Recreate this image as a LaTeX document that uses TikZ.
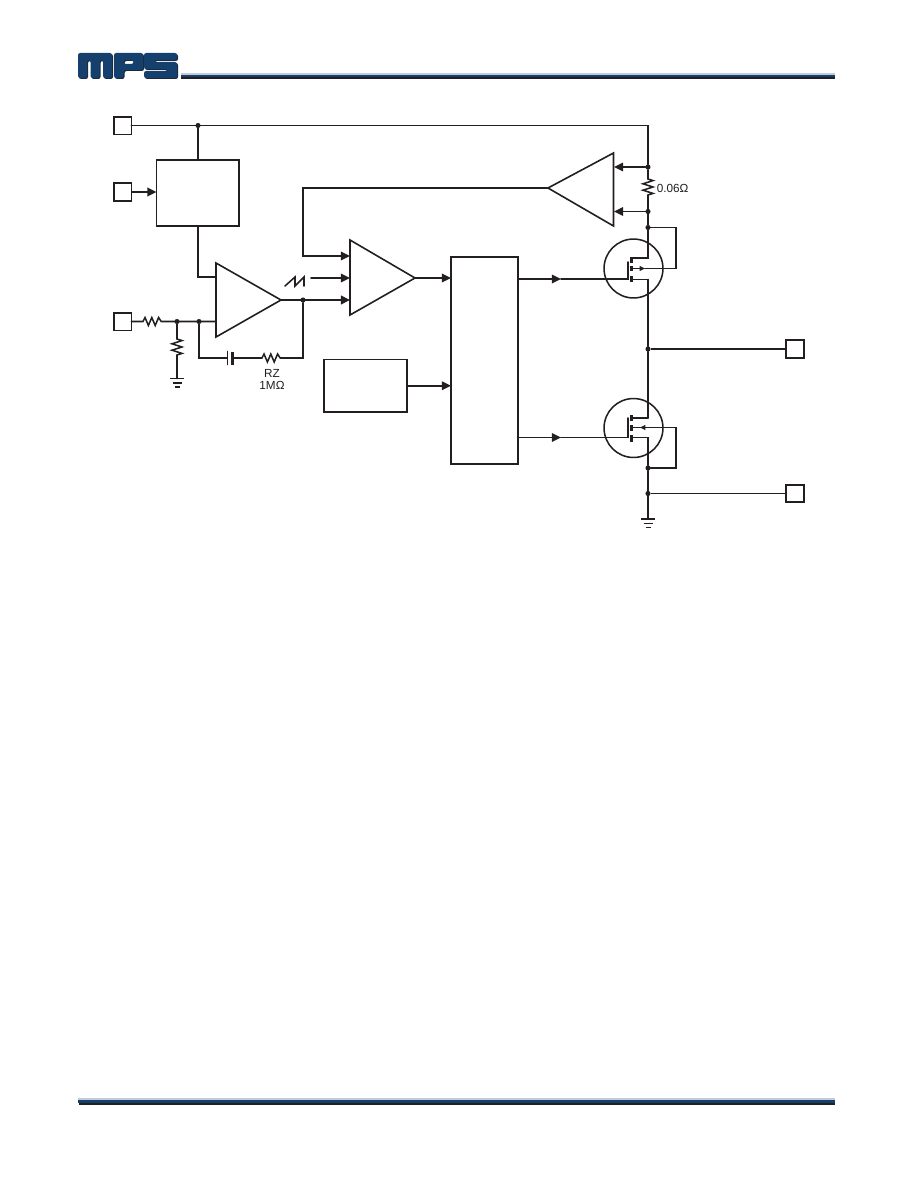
\documentclass[tikz,border=0pt]{standalone}
\usepackage{fontspec}
\setmainfont{Liberation Sans}
\usetikzlibrary{arrows.meta,calc}
\definecolor{ink}{HTML}{231F20}
\definecolor{mpsblue}{HTML}{153F6C}
\definecolor{mpsshade}{HTML}{1A2A3A}
\definecolor{mpslight}{HTML}{C3CBDA}
\tikzset{
  wire/.style={draw=ink,line width=1.15pt,line cap=round,line join=miter},
  thinwire/.style={draw=ink,line width=0.8pt},
  heavywire/.style={draw=ink,line width=1.6pt},
  arrowed/.style={-{Triangle[length=6.8pt,width=6.4pt]}},
  pin/.style={draw=ink,line width=1.2pt,fill=white,minimum size=13.2pt,inner sep=0pt,outer sep=0pt},
  heavypin/.style={pin,line width=1.6pt},
  blockbox/.style={draw=ink,line width=1.25pt,fill=white,inner sep=0pt,outer sep=0pt},
  amp/.style={draw=ink,line width=1.2pt,fill=white,line join=miter},
  joint/.style={circle,fill=ink,inner sep=0pt,minimum size=3.8pt,outer sep=0pt},
  fetring/.style={circle,draw=ink,line width=1.15pt,minimum size=44.2pt,inner sep=0pt,outer sep=0pt},
  channel/.style={draw=ink,line width=1.6pt},
  lbl/.style={font=\fontsize{8.8pt}{10pt}\selectfont,text=ink,inner sep=0pt},
  hres/.style={to path={-- ++(2,-4) -- ++(3.4,8) -- ++(3.4,-8) -- ++(3.4,8) -- ++(3.4,-8) -- ++(2.6,4) -- (\tikztotarget)}},
  vres/.style={to path={-- ++(5,1.6) -- ++(-10,3.2) -- ++(10,3.2) -- ++(-10,3.2) -- ++(10,3.2) -- ++(-5,1.6) -- (\tikztotarget)}},
}
% Draws the three-bar ground symbol below a named point; #2 is the top bar's width
\newcommand{\earth}[2]{%
  \draw[draw=ink,line width=#2] ($(#1)+(-7,0)$) -- ($(#1)+(7,0)$);
  \draw[thinwire] ($(#1)+(-4.5,4.5)$) -- ($(#1)+(4.5,4.5)$);
  \draw[thinwire,line width=1.1pt] ($(#1)+(-2.5,8.5)$) -- ($(#1)+(2.5,8.5)$);
}
% Company logo letters, with slits cut out of solid blocks
\newcommand{\logoshape}[1]{%
  \fill[#1,rounded corners=1.6pt] (78,53) -- (112,53) -- (112,78) -- (103,78) -- (103,60) -- (99.5,60) -- (99.5,78) -- (90.5,78) -- (90.5,60) -- (87,60) -- (87,78) -- (78,78) -- cycle;
  \fill[#1,rounded corners=1.6pt,even odd rule] (114,53) -- (143,53) -- (143,70) -- (123.5,70) -- (123.5,78) -- (114,78) -- cycle (123.5,60) -- (133.5,60) -- (133.5,64) -- (123.5,64) -- cycle;
  \fill[#1,rounded corners=1.6pt] (144,53) -- (177,53) -- (177,60) -- (154,60) -- (154,62) -- (177,62) -- (177,78) -- (144,78) -- (144,71) -- (167,71) -- (167,69) -- (144,69) -- cycle;
}
\begin{document}
\begin{tikzpicture}[x=0.75pt,y=-0.75pt]
\useasboundingbox (0,0) rectangle (918,1188);

% Page header and footer
\begin{scope}[shift={(1,1)}]\logoshape{mpsshade}\end{scope}
\logoshape{mpsblue}
\fill[mpslight] (181,73) rectangle (835,75);
\fill[mpsblue] (181,75) rectangle (835,77.5);
\fill[ink] (181,77.5) rectangle (835,79.5);
\fill[mpslight] (78,1098) rectangle (835,1100);
\fill[mpsblue] (78,1100) rectangle (835,1103);
\fill[ink] (79,1103) rectangle (835,1105);

% Pins
\node[pin] (pinA) at (122.5,125.5) {};
\node[pin] (pinB) at (122.5,192) {};
\node[pin] (pinC) at (122.5,321.5) {};
\node[heavypin] (pinD) at (795,349) {};
\node[heavypin] (pinE) at (795,493.5) {};

% Function blocks
\node[blockbox,minimum width=62pt,minimum height=49.5pt] (reg) at (197.75,193) {};
\node[blockbox,minimum width=62.2pt,minimum height=39.4pt] (osc) at (365.5,385.75) {};
\node[blockbox,minimum width=50.2pt,minimum height=155.2pt] (logic) at (484.5,360.5) {};

% Named points of the amplifiers
\coordinate (eaTop) at (216,263);
\coordinate (eaBot) at (216,337);
\coordinate (eaOut) at (281,300);
\coordinate (eaHi) at (216,277);
\coordinate (eaLo) at (216,321.5);
\coordinate (cmpTop) at (350,240);
\coordinate (cmpBot) at (350,315);
\coordinate (cmpOut) at (415,278);
\coordinate (cmpA) at (350,256);
\coordinate (cmpB) at (350,278);
\coordinate (cmpC) at (350,300);
\coordinate (csTop) at (613.5,153);
\coordinate (csBot) at (613.5,226);
\coordinate (csOut) at (548,188);
\coordinate (csA) at (614,167);
\coordinate (csB) at (614,211.5);

% Junctions on the schematic
\node[joint] (jTop) at (198,125.5) {};
\node[joint] (jDiv) at (177,321.5) {};
\node[joint] (jInv) at (199,321.5) {};
\node[joint] (jOut) at (303,300) {};
\node[joint] (jSenseHi) at (648,167) {};
\node[joint] (jSenseLo) at (648,211.5) {};
\node[joint] (jBodyHi) at (648,227.5) {};
\node[joint] (jSw) at (648,349) {};
\node[joint] (jBodyLo) at (648,468) {};
\node[joint] (jGnd) at (648,493.5) {};

% Supply rail and regulator
\coordinate (railEnd) at (648,125.5);
\draw[wire] (pinA) -- (railEnd) -- (jSenseHi);
\draw[wire] (jTop) -- (reg.north -| jTop);
\draw[heavywire,arrowed] (pinB) -- (reg.west |- pinB);
\draw[wire] (reg.south -| jTop) -- (jTop |- eaHi) -- (eaHi);

% Input divider and compensation
\coordinate (r1a) at (143,321.5);
\coordinate (r1b) at (165,321.5);
\coordinate (r2a) at (177,339);
\coordinate (r2b) at (177,359);
\coordinate (gndA) at (177,378.5);
\coordinate (fbL) at (199,358);
\coordinate (capL) at (227.5,358);
\coordinate (capR) at (232.5,358);
\coordinate (rzA) at (262,358);
\coordinate (rzB) at (284,358);
\coordinate (fbR) at (303,358);
\draw[wire] (pinC) -- (r1a) to[hres] (r1b) -- (eaLo);
\draw[wire] (jDiv) -- (r2a) to[vres] (r2b) -- (gndA);
\earth{gndA}{1pt}
\draw[heavywire] (jInv) -- (fbL) -- (capL);
\draw[wire] ($(capL)+(0,-6.5)$) -- ($(capL)+(0,6.5)$);
\draw[heavywire] ($(capR)+(0,-6.5)$) -- ($(capR)+(0,6.5)$);
\draw[wire] (capR) -- (rzA) to[hres] (rzB) -- (fbR) -- (jOut);
\node[lbl] (rzName) at (272,373) {RZ};
\node[lbl] (rzValue) at (272,385.5) {1MΩ};

% Amplifier outputs and comparator inputs
\coordinate (senseL) at (303,188);
\coordinate (senseD) at (303,256);
\coordinate (rampEnd) at (311,278);
\draw[wire,arrowed] (csOut) -- (senseL) -- (senseD) -- (cmpA);
\draw[wire,arrowed] (rampEnd) -- (cmpB);
\draw[heavywire,arrowed] (eaOut) -- (cmpC);
\draw[wire,arrowed] (cmpOut) -- (logic.west |- cmpOut);
\draw[wire,arrowed] (osc.east) -- (logic.west |- osc.east);
\draw[amp] (eaTop) -- (eaOut) -- (eaBot) -- cycle;
\draw[amp] (cmpTop) -- (cmpOut) -- (cmpBot) -- cycle;
\draw[amp] (csTop) -- (csOut) -- (csBot) -- cycle;

% Ramp symbol
\coordinate (rampA) at (285,286);
\coordinate (rampB) at (295,277);
\coordinate (rampC) at (295,286);
\coordinate (rampD) at (304,277);
\coordinate (rampF) at (304,286);
\draw[wire] (rampA) -- (rampB) -- (rampC) -- (rampD) -- (rampF);

% Current sense resistor and its taps
\coordinate (rsA) at (648,179);
\coordinate (rsB) at (648,198);
\draw[wire] (jSenseHi) -- (rsA) to[vres] (rsB) -- (jBodyHi);
\draw[wire,arrowed] (jSenseHi) -- (csA);
\draw[wire,arrowed] (jSenseLo) -- (csB);
\node[lbl,anchor=west] (rsValue) at (656.5,188) {0.06Ω};

% High side switch
\node[fetring] (fetH) at (633.5,268.5) {};
\coordinate (hgMid) at (561,279);
\coordinate (hGate) at (628,279);
\coordinate (hGateTop) at (628,262);
\coordinate (hD) at (631.5,258);
\coordinate (hDr) at (648,258);
\coordinate (hB) at (631.5,268.5);
\coordinate (hBarrow) at (645,268.5);
\coordinate (hBr) at (676,268.5);
\coordinate (hBt) at (676,227.5);
\coordinate (hS) at (631.5,279.5);
\coordinate (hSr) at (648,279.5);
\draw[wire,arrowed] (logic.east |- hgMid) -- (hgMid);
\draw[wire] (hgMid) -- (hGate) -- (hGateTop);
\draw[wire] (jBodyHi) -- (hDr) -- (hD);
\draw[wire] (hSr) -- (hS);
\draw[wire,-{Triangle[length=4pt,width=3.6pt]}] (hB) -- (hBarrow);
\draw[wire] (hBarrow) -- (hBr) -- (hBt) -- (jBodyHi);
\draw[channel] (631.5,257) -- (631.5,263);
\draw[channel] (631.5,266) -- (631.5,271);
\draw[channel] (631.5,276) -- (631.5,282);

% Switch node and output wires
\coordinate (lDr) at (648,418);
\draw[wire] (hSr) -- (jSw) -- (lDr);
\draw[heavywire,line width=1.3pt] (jSw) -- (pinD);

% Low side switch
\node[fetring] (fetL) at (633.5,428) {};
\coordinate (lgMid) at (561,437.5);
\coordinate (lGate) at (628,437.5);
\coordinate (lGateTop) at (628,418);
\coordinate (lD) at (631.5,418);
\coordinate (lB) at (648,427.5);
\coordinate (lBarrow) at (640,427.5);
\coordinate (lBr) at (676,427.5);
\coordinate (lBb) at (676,468);
\coordinate (lBi) at (631.5,427.5);
\coordinate (lS) at (631.5,437.5);
\coordinate (lSr) at (648,437.5);
\coordinate (gndB) at (648,519);
\draw[wire,arrowed] (logic.east |- lgMid) -- (lgMid);
\draw[wire] (lgMid) -- (lGate) -- (lGateTop);
\draw[wire] (lDr) -- (lD);
\draw[wire] (lS) -- (lSr) -- (jBodyLo) -- (gndB);
\draw[wire] (lBi) -- (lBr) -- (lBb) -- (jBodyLo);
\draw[wire,-{Triangle[length=4pt,width=3.6pt]}] (lB) -- (lBarrow);
\draw[channel] (631.5,415) -- (631.5,421);
\draw[channel] (631.5,425) -- (631.5,431);
\draw[channel] (631.5,435) -- (631.5,442);
\draw[thinwire] (jGnd) -- (pinE);
\earth{gndB}{1.6pt}
\end{tikzpicture}
\end{document}
